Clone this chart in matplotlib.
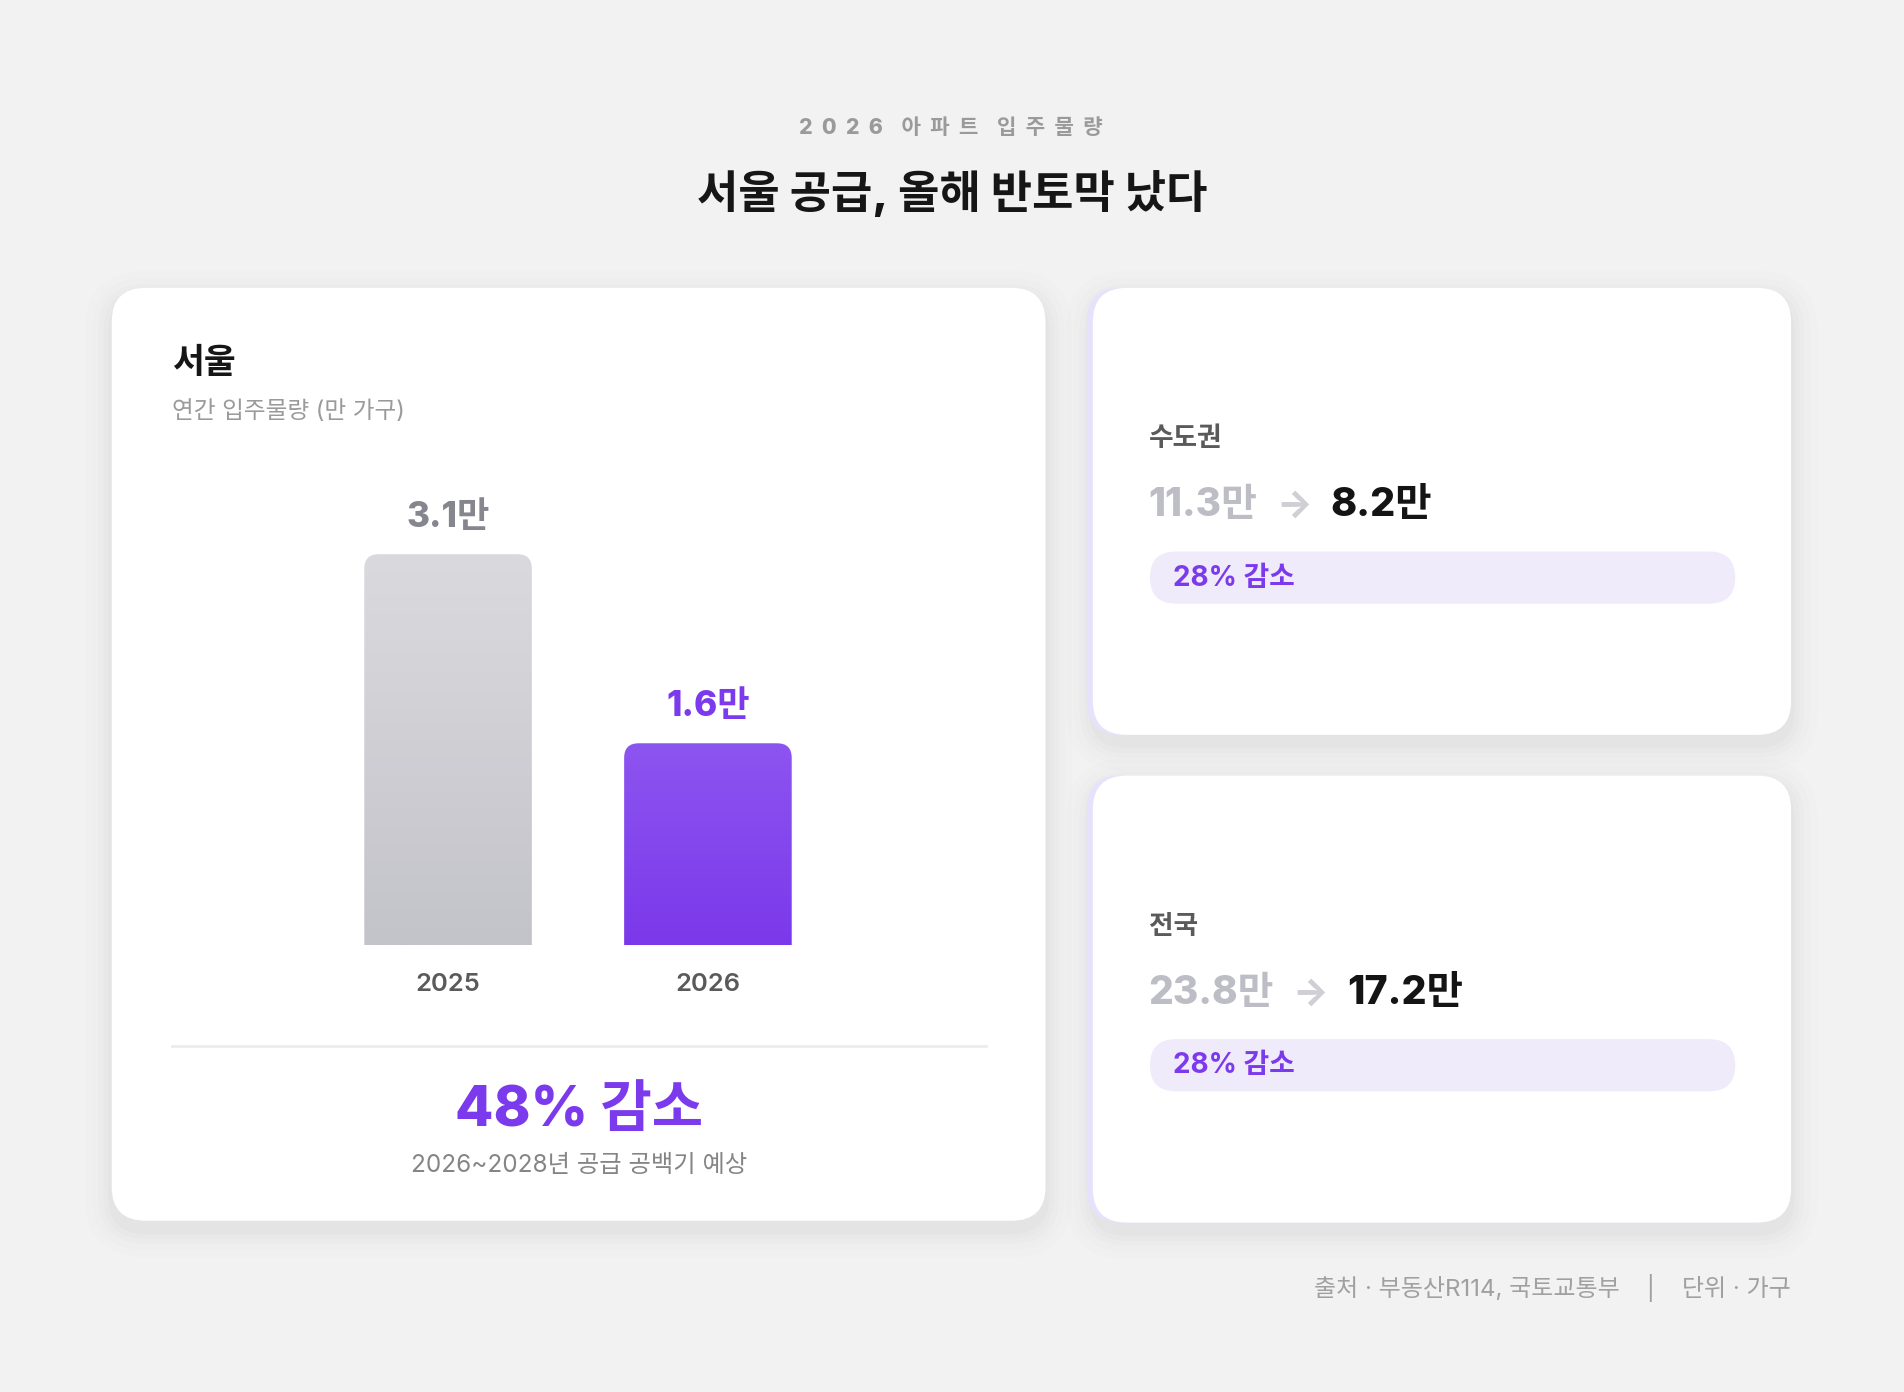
import matplotlib.pyplot as plt
from matplotlib.patches import FancyBboxPatch
import numpy as np

# data
years = ['2025', '2026']
seoul = [3.1, 1.6]
seoul_change = '48% 감소'
seoul_note = '2026~2028년 공급 공백기 예상'
regions = ['수도권', '전국']
region_before = [11.3, 23.8]
region_after = [8.2, 17.2]
region_change = ['28% 감소', '28% 감소']

FONT = ['Inter', 'Noto Sans CJK KR', 'DejaVu Sans']
plt.rcParams['font.family'] = FONT

# layout works in reference pixels (1568 x 1146), rendered at 1904 x 1392
W, H = 1568, 1146
PT = 1904 / W * 0.72
DY = 2.5  # small nudge so text centres sit like the reference
PURPLE = '#7c3aed'

fig = plt.figure(figsize=(19.04, 13.92), dpi=100)
fig.patch.set_facecolor('#f2f2f2')
ax = fig.add_axes([0, 0, 1, 1])
ax.set_xlim(0, W)
ax.set_ylim(H, 0)
ax.axis('off')


def txt(x, y, s, size, color, weight='normal', ha='left', **kw):
    return ax.text(x, y + DY, s, fontsize=size * PT, color=color, fontweight=weight,
                   ha=ha, va='center', **kw)


def card(x0, y0, x1, y1, r=28, accent=None):
    w, h = x1 - x0, y1 - y0
    for grow, a in [(22, 0.006), (16, 0.008), (11, 0.01), (7, 0.012), (3, 0.014)]:
        ax.add_patch(FancyBboxPatch((x0 - grow, y0 - grow + 8), w + 2 * grow, h + 2 * grow,
                                    boxstyle=f'round,pad=0,rounding_size={r + grow}',
                                    fc='black', ec='none', alpha=a, zorder=1))
    if accent:
        ax.add_patch(FancyBboxPatch((x0 - 5, y0), w + 5, h,
                                    boxstyle=f'round,pad=0,rounding_size={r}',
                                    fc=accent, ec='none', zorder=2))
    ax.add_patch(FancyBboxPatch((x0, y0), w, h, boxstyle=f'round,pad=0,rounding_size={r}',
                                fc='white', ec='none', zorder=3))


# header
txt(783, 103, '    '.join('  '.join(list(w)) for w in '2026 아파트 입주물량'.split()),
    17.5, '#9a9a9a', weight='heavy', ha='center')
txt(784, 157, '서울 공급, 올해 반토막 났다', 37, '#161616', weight='heavy', ha='center')

# left card
card(92, 237, 861, 1005)
txt(142, 297, '서울', 28.5, '#161616', weight='heavy', zorder=5)
txt(142, 336, '연간 입주물량 (만 가구)', 19.5, '#9a9a9a', zorder=5)

BASE, TOP, LEFT, RIGHT = 778, 400, 142, 812
UNIT_X, UNIT_Y = 214, 103.8
bax = fig.add_axes([LEFT / W, 1 - BASE / H, (RIGHT - LEFT) / W, (BASE - TOP) / H])
bax.set_xlim(-(369 - LEFT) / UNIT_X, (RIGHT - 369) / UNIT_X)
bax.set_ylim(0, (BASE - TOP) / UNIT_Y)
bax.axis('off')
bax.patch.set_alpha(0)
bars = bax.bar(range(len(seoul)), seoul, width=138 / UNIT_X, color='none')

grads = [('#dadade', '#c3c3ca'), ('#8d55f0', '#7b38ea')]
label_colors = ['#86868f', PURPLE]
to_main = ax.transData.inverted()
for bar, val, yr, (c_top, c_bot), lc in zip(bars, seoul, years, grads, label_colors):
    (x0, yb), = to_main.transform(bax.transData.transform([(bar.get_x(), 0)]))
    (x1, yt), = to_main.transform(bax.transData.transform([(bar.get_x() + bar.get_width(), val)]))
    top = np.array(plt.matplotlib.colors.to_rgb(c_top))
    bot = np.array(plt.matplotlib.colors.to_rgb(c_bot))
    t = np.linspace(0, 1, 256)[:, None, None]
    grad = top * (1 - t) + bot * t
    im = ax.imshow(grad, extent=[x0, x1, yb, yt], origin='upper', aspect='auto', zorder=4)
    clip = FancyBboxPatch((x0, yt), x1 - x0, yb - yt + 20,
                          boxstyle='round,pad=0,rounding_size=12', transform=ax.transData)
    im.set_clip_path(clip)
    cx = (x0 + x1) / 2
    txt(cx, yt - 33, f'{val}만', 29, lc, weight='heavy', ha='center', zorder=5)
    txt(cx, BASE + 30, yr, 21, '#5a5a5a', weight='semibold', ha='center', zorder=5)

ax.plot([142, 812], [861, 861], color='#ececec', lw=2, zorder=5)
txt(477, 912, seoul_change, 46, PURPLE, weight='heavy', ha='center', zorder=5)
txt(477, 957, seoul_note, 20, '#858585', ha='center', zorder=5)

# right cards
for i, (name, b, a, ch) in enumerate(zip(regions, region_before, region_after, region_change)):
    dy = i * 401.5
    card(900, 237 + dy, 1475, 605 + dy, accent='#e7e2fb')
    txt(946, 359 + dy, name, 22, '#5a5a5a', weight='bold', zorder=5)
    tb = txt(946, 414 + dy, f'{b}만', 32, '#bdbdc5', weight='heavy', zorder=5)
    fig.canvas.draw()
    ext = tb.get_window_extent()
    xr = to_main.transform([(ext.x1, 0)])[0][0]
    txt(xr + 30, 414 + dy, '→', 31, '#cfcfd5', weight='heavy', ha='center', zorder=5)
    txt(xr + 60, 414 + dy, f'{a}만', 32.5, '#141414', weight='heavy', zorder=5)
    ax.add_patch(FancyBboxPatch((947, 454 + dy), 482, 43,
                                boxstyle='round,pad=0,rounding_size=21.5',
                                fc='#efebfb', ec='none', zorder=4))
    txt(966, 473.5 + dy, ch, 23, PURPLE, weight='bold', zorder=5)

# footer
txt(1475, 1058, '출처 · 부동산R114, 국토교통부    |    단위 · 가구', 19.8, '#a0a0a0', ha='right')

fig.savefig('out.png', dpi=100, facecolor=fig.get_facecolor())
